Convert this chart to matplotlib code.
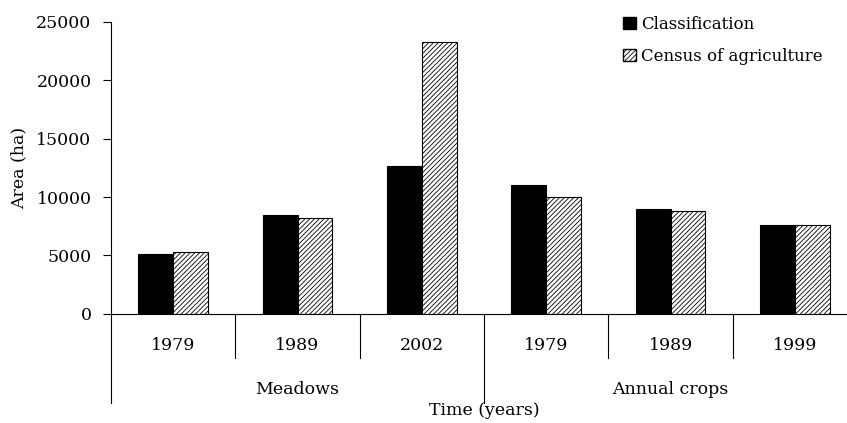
import matplotlib
matplotlib.use("Agg")
import matplotlib.pyplot as plt
from matplotlib.patches import Patch
import numpy as np

plt.rcParams['font.family'] = ['DejaVu Serif']
plt.rcParams['hatch.linewidth'] = 0.6

years = ['1979', '1989', '2002', '1979', '1989', '1999']
groups = ['Meadows', 'Annual crops']
classification = [5100, 8500, 12700, 11000, 9000, 7600]
census = [5300, 8250, 23300, 10000, 8800, 7600]

FS = 12.5
HATCH = '///////'

fig = plt.figure(figsize=(8.47, 4.23), dpi=100)
ax = fig.add_axes([0.131, 0.258, 0.881, 0.690])

x = np.arange(len(years))
w = 0.28
ax.bar(x - w/2, classification, w, color='black', edgecolor='black', linewidth=0.8,
       label='Classification')
ax.bar(x + w/2, census, w, color='white', edgecolor='black', linewidth=0.8,
       hatch=HATCH, label='Census of agriculture')

ax.set_xlim(-0.5, 5.5)
ax.set_ylim(0, 25000)
ax.set_yticks(range(0, 25001, 5000))
ax.set_xticks([])
ax.tick_params(axis='y', labelsize=FS, length=6, pad=8, width=0.8)
for s in ['top', 'right']:
    ax.spines[s].set_visible(False)
ax.spines['left'].set_linewidth(0.8)
ax.spines['bottom'].set_linewidth(0.8)

trans = ax.get_xaxis_transform()
# year labels and short dividers
for i, yr in enumerate(years):
    ax.text(i, -0.11, yr, transform=trans, ha='center', va='center', fontsize=FS)
for b in [0.5, 1.5, 3.5, 4.5]:
    ax.plot([b, b], [0, -0.15], transform=trans, color='black', lw=0.8, clip_on=False)
# group dividers
for b in [-0.5, 2.5]:
    ax.plot([b, b], [0, -0.305], transform=trans, color='black', lw=0.8, clip_on=False)
ax.text(1.0, -0.26, groups[0], transform=trans, ha='center', va='center', fontsize=FS)
ax.text(4.0, -0.26, groups[1], transform=trans, ha='center', va='center', fontsize=FS)
ax.text(2.5, -0.33, 'Time (years)', transform=trans, ha='center', va='center', fontsize=FS)

ax.set_ylabel('Area (ha)', fontsize=FS, labelpad=6)

handles = [Patch(facecolor='black', edgecolor='black'),
           Patch(facecolor='white', edgecolor='black', hatch=HATCH)]
fig.legend(handles, ['Classification', 'Census of agriculture'],
           loc='upper left', bbox_to_anchor=(0.722, 0.99), frameon=False,
           fontsize=12, handlelength=0.75, handleheight=0.75, handletextpad=0.3,
           labelspacing=0.9, borderpad=0.2)

plt.savefig('out.png', dpi=100)
